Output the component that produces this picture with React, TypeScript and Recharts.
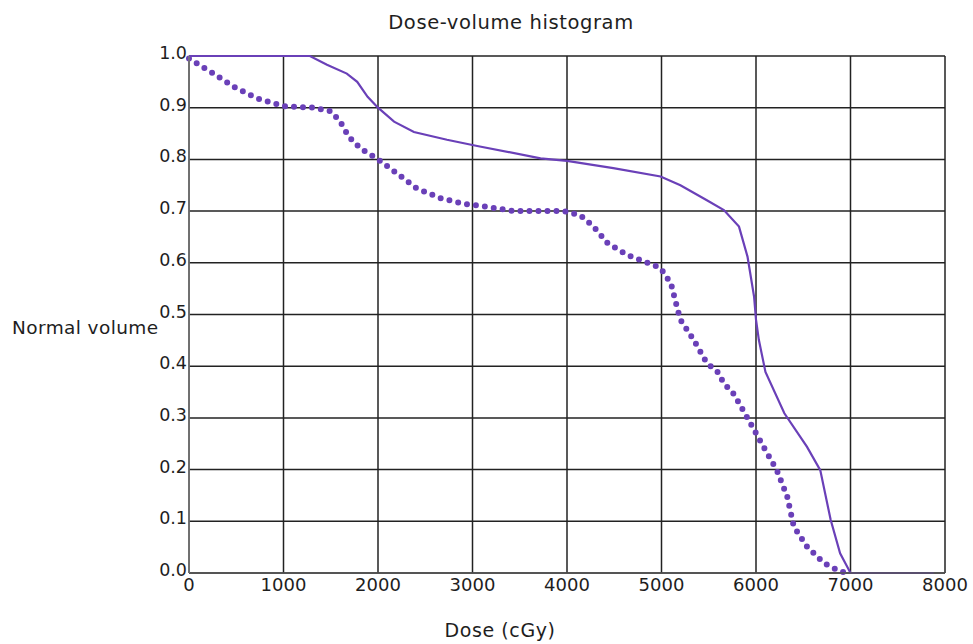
import React from 'react';
import { LineChart, Line, XAxis, YAxis, CartesianGrid, Label } from 'recharts';

const solidDose = [0, 1000, 1280, 1460, 1670, 1780, 1890, 2000, 2170, 2380, 2730, 3050, 3720, 4000, 4490, 4990, 5200, 5480, 5660, 5820, 5910, 5980, 6000, 6030, 6100, 6300, 6540, 6680, 6790, 6890, 7000, 7880];
const solidVol = [1.0, 1.0, 1.0, 0.983, 0.966, 0.95, 0.921, 0.9, 0.873, 0.853, 0.838, 0.826, 0.802, 0.797, 0.783, 0.767, 0.75, 0.721, 0.702, 0.67, 0.612, 0.534, 0.49, 0.451, 0.389, 0.309, 0.244, 0.199, 0.103, 0.038, 0.0, 0.0];

const dotDose = [0, 260, 470, 720, 1000, 1320, 1500, 1600, 1690, 1815, 2000, 2200, 2410, 2660, 2910, 3090, 3440, 3970, 4140, 4280, 4430, 4640, 4850, 4990, 5100, 5170, 5200, 5340, 5480, 5590, 5660, 5770, 5800, 5940, 6080, 6220, 6330, 6400, 6540, 6720, 6890, 7000];
const dotVol = [0.995, 0.966, 0.941, 0.918, 0.903, 0.9, 0.893, 0.873, 0.844, 0.821, 0.8, 0.773, 0.744, 0.725, 0.714, 0.71, 0.7, 0.7, 0.692, 0.67, 0.638, 0.615, 0.6, 0.59, 0.56, 0.51, 0.49, 0.451, 0.406, 0.39, 0.367, 0.345, 0.335, 0.29, 0.244, 0.199, 0.148, 0.09, 0.051, 0.019, 0.003, 0.0];

const xTicks = [0, 1000, 2000, 3000, 4000, 5000, 6000, 7000, 8000];
const yTicks = [0, 0.1, 0.2, 0.3, 0.4, 0.5, 0.6, 0.7, 0.8, 0.9, 1.0];

const title = 'Dose-volume histogram';
const xTitle = 'Dose (cGy)';
const yTitle = 'Normal volume';

const solidData = solidDose.map((d, i) => ({ dose: d, vol: solidVol[i] }));
const dotData = dotDose.map((d, i) => ({ dose: d, vol: dotVol[i] }));

const FONT = '"DejaVu Sans", sans-serif';
const TEXT = '#1e1e1e';
const PURPLE = '#6a40b8';

const YTick = (props: any) => {
  const { x, y, payload } = props;
  return (
    <text x={x} y={y} dy={3} textAnchor="end" fontFamily={FONT} fontSize={17.5} fill={TEXT}>
      {Number(payload.value).toFixed(1)}
    </text>
  );
};

const XTick = (props: any) => {
  const { x, y, payload } = props;
  return (
    <text x={x} y={y} dy={14} textAnchor="middle" fontFamily={FONT} fontSize={18} fill={TEXT}>
      {payload.value}
    </text>
  );
};

export default function App() {
  return (
    <div style={{ position: 'absolute', left: 0, top: 0, width: 973, height: 644, background: '#fff' }}>
      <LineChart width={973} height={644} data={solidData} margin={{ top: 56, right: 28, bottom: 11, left: 0 }}>
        <CartesianGrid stroke="#222" strokeWidth={1.5} horizontal vertical />
        <XAxis
          type="number"
          dataKey="dose"
          domain={[0, 8000]}
          ticks={xTicks}
          interval={0}
          height={60}
          tickSize={0}
          tickMargin={4}
          tick={<XTick />}
          axisLine={{ stroke: '#555', strokeWidth: 1.6 }}
          tickLine={false}
        >
          <Label
            content={() => (
              <g>
                <text x={500} y={637} textAnchor="middle" fontFamily={FONT} fontSize={19} letterSpacing={0.6} fill={TEXT}>{xTitle}</text>
                <text x={511} y={29} textAnchor="middle" fontFamily={FONT} fontSize={19.5} letterSpacing={0.6} fill={TEXT}>{title}</text>
              </g>
            )}
          />
        </XAxis>
        <YAxis
          type="number"
          domain={[0, 1]}
          ticks={yTicks}
          interval={0}
          width={189}
          tickSize={0}
          tickMargin={2}
          tick={<YTick />}
          axisLine={{ stroke: '#777', strokeWidth: 1.6 }}
          tickLine={false}
        >
          <Label
            content={() => (
              <text x={12} y={334} textAnchor="start" fontFamily={FONT} fontSize={18.5} letterSpacing={0.4} fill={TEXT}>{yTitle}</text>
            )}
          />
        </YAxis>
        <Line
          data={solidData}
          dataKey="vol"
          type="linear"
          stroke={PURPLE}
          strokeWidth={2.2}
          dot={false}
          isAnimationActive={false}
        />
        <Line
          data={dotData}
          dataKey="vol"
          type="linear"
          stroke={PURPLE}
          strokeWidth={6}
          strokeDasharray="0 9"
          strokeLinecap="round"
          dot={false}
          isAnimationActive={false}
        />
      </LineChart>
    </div>
  );
}
